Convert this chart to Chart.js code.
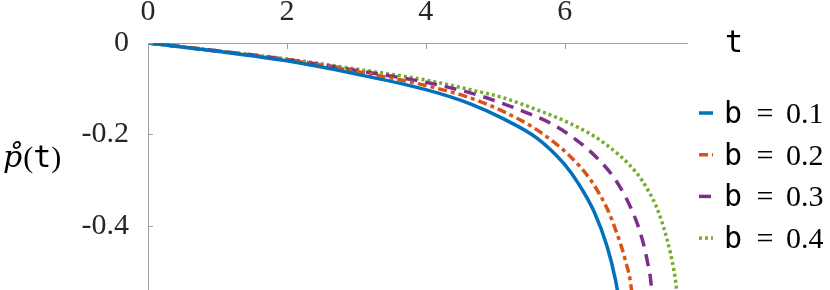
<!DOCTYPE html>
<html>
<head>
<meta charset="utf-8">
<script src="https://cdn.jsdelivr.net/npm/chart.js@4.4.1/dist/chart.umd.min.js"></script>
<style>
  html, body { margin: 0; padding: 0; background: #fff; }
</style>
</head>
<body>
<canvas id="chart" width="830" height="290"></canvas>
<script>
// axis ticks
const xTicks = [0, 2, 4, 6];
const yTicks = [0, -0.2, -0.4];

// legend values of b
const bValues = ["0.1", "0.2", "0.3", "0.4"];

// series (t, p)
const t1 = [0, 1, 2, 3, 4, 4.64, 5.12, 5.6, 6.0, 6.2, 6.42, 6.61, 6.73, 6.76, 6.79];
const p1 = [0, -0.018, -0.039, -0.068, -0.102, -0.133, -0.166, -0.208, -0.266, -0.308, -0.368, -0.445, -0.518, -0.545, -0.600];

const t2 = [0, 1, 2, 3, 4, 4.64, 5.12, 5.6, 6.08, 6.37, 6.61, 6.75, 6.87, 6.96, 6.99];
const p2 = [0, -0.018, -0.037, -0.062, -0.093, -0.120, -0.150, -0.190, -0.248, -0.299, -0.362, -0.416, -0.474, -0.540, -0.600];

const t3 = [0, 1, 2, 3, 4, 4.64, 5.03, 5.41, 5.79, 6.15, 6.47, 6.73, 6.95, 7.09, 7.19, 7.25, 7.27];
const p3 = [0, -0.017, -0.036, -0.060, -0.086, -0.109, -0.128, -0.150, -0.175, -0.210, -0.252, -0.299, -0.360, -0.416, -0.478, -0.540, -0.600];

const t4 = [0, 1, 2, 3, 4, 4.64, 5.12, 5.6, 6.08, 6.56, 7.04, 7.2, 7.33, 7.47, 7.57, 7.61, 7.635];
const p4 = [0, -0.017, -0.035, -0.057, -0.081, -0.102, -0.120, -0.146, -0.176, -0.218, -0.285, -0.322, -0.362, -0.428, -0.496, -0.540, -0.600];

const colors = ["#0072BD", "#D95319", "#7E2F8E", "#77AC30"];
const dashes = [[], [9, 4, 4, 4], [12, 8], [3, 3]];
const axisColor = "#a0a0a0";
const textColor = "#262626";
const SERIF = '"Liberation Serif", "DejaVu Serif", serif';
const MONO = '"DejaVu Sans Mono", "Liberation Mono", monospace';

const toPts = (ts, ps) => ts.map((t, i) => ({ x: t, y: ps[i] }));
const series = [toPts(t1, p1), toPts(t2, p2), toPts(t3, p3), toPts(t4, p4)];

// keep the plot area fixed: no extra room for edge labels
const noPad = s => { s.paddingTop = 0; s.paddingBottom = 0; s.paddingLeft = 0; s.paddingRight = 0; };

const decor = {
  id: "decor",
  afterDraw(chart) {
    const { ctx, chartArea: a, scales: { x, y } } = chart;
    ctx.save();

    // small inward ticks
    ctx.strokeStyle = axisColor;
    ctx.lineWidth = 1;
    xTicks.forEach(v => {
      const px = Math.round(x.getPixelForValue(v)) + 0.5;
      ctx.beginPath(); ctx.moveTo(px, a.top); ctx.lineTo(px, a.top + 6); ctx.stroke();
    });
    yTicks.forEach(v => {
      const py = Math.round(y.getPixelForValue(v)) + 0.5;
      ctx.beginPath(); ctx.moveTo(a.left, py); ctx.lineTo(a.left + 5, py); ctx.stroke();
    });

    ctx.fillStyle = "#000";
    ctx.textBaseline = "alphabetic";
    ctx.textAlign = "left";

    // x title "t"
    ctx.font = "30px " + MONO;
    ctx.fillText("t", a.right + 38, a.top + 9);

    // y title p̊(t)
    let cx = 3;
    const base = 167;
    ctx.font = 'italic 30px "DejaVu Serif", serif';
    ctx.fillText("p\u030A", cx, base);
    cx += ctx.measureText("p\u030A").width + 1;
    ctx.font = "30px " + SERIF;
    ctx.fillText("(", cx, base);
    cx += ctx.measureText("(").width;
    ctx.font = "30px " + MONO;
    ctx.fillText("t", cx, base);
    cx += ctx.measureText("t").width;
    ctx.font = "30px " + SERIF;
    ctx.fillText(")", cx, base);

    // legend
    chart.data.datasets.forEach((ds, i) => {
      const cy = a.top + 70 + i * 41.7;
      ctx.strokeStyle = ds.borderColor;
      ctx.lineWidth = 3.5;
      ctx.setLineDash(ds.borderDash);
      ctx.beginPath();
      ctx.moveTo(a.right + 12, cy);
      ctx.lineTo(a.right + 26, cy);
      ctx.stroke();
      ctx.setLineDash([]);

      ctx.fillStyle = "#000";
      ctx.font = "30px " + MONO;
      ctx.fillText("b", a.right + 37, cy + 10);
      ctx.font = "30px " + SERIF;
      ctx.textAlign = "center";
      ctx.fillText("=", a.right + 78, cy + 10);
      ctx.textAlign = "left";
      ctx.fillText(bValues[i], a.right + 99, cy + 10);
    });
    ctx.restore();
  }
};

new Chart(document.getElementById("chart"), {
  type: "line",
  data: {
    datasets: series.map((pts, i) => ({
      label: "b = " + bValues[i],
      data: pts,
      borderColor: colors[i],
      backgroundColor: colors[i],
      borderDash: dashes[i],
      borderWidth: 3.5,
      borderCapStyle: "butt",
      pointRadius: 0,
      cubicInterpolationMode: "monotone",
      fill: false
    }))
  },
  options: {
    responsive: false,
    animation: false,
    devicePixelRatio: 1,
    layout: { padding: { left: 0, top: 0, right: 143, bottom: 0 } },
    plugins: { legend: { display: false }, tooltip: { enabled: false } },
    scales: {
      x: {
        type: "linear",
        position: "top",
        min: 0,
        max: 7.76,
        afterBuildTicks: s => { s.ticks = xTicks.map(v => ({ value: v })); },
        afterFit: s => { s.height = 43; noPad(s); },
        grid: { display: false },
        border: { display: true, color: axisColor, width: 1 },
        ticks: { color: textColor, font: { family: SERIF, size: 30 }, padding: 5, maxRotation: 0 }
      },
      y: {
        type: "linear",
        min: -0.54,
        max: 0,
        afterBuildTicks: s => { s.ticks = yTicks.map(v => ({ value: v })); },
        afterFit: s => { s.width = 148; noPad(s); },
        grid: { display: false },
        border: { display: true, color: axisColor, width: 1 },
        ticks: { color: textColor, font: { family: SERIF, size: 30 }, padding: 11 }
      }
    }
  },
  plugins: [decor]
});
</script>
</body>
</html>
